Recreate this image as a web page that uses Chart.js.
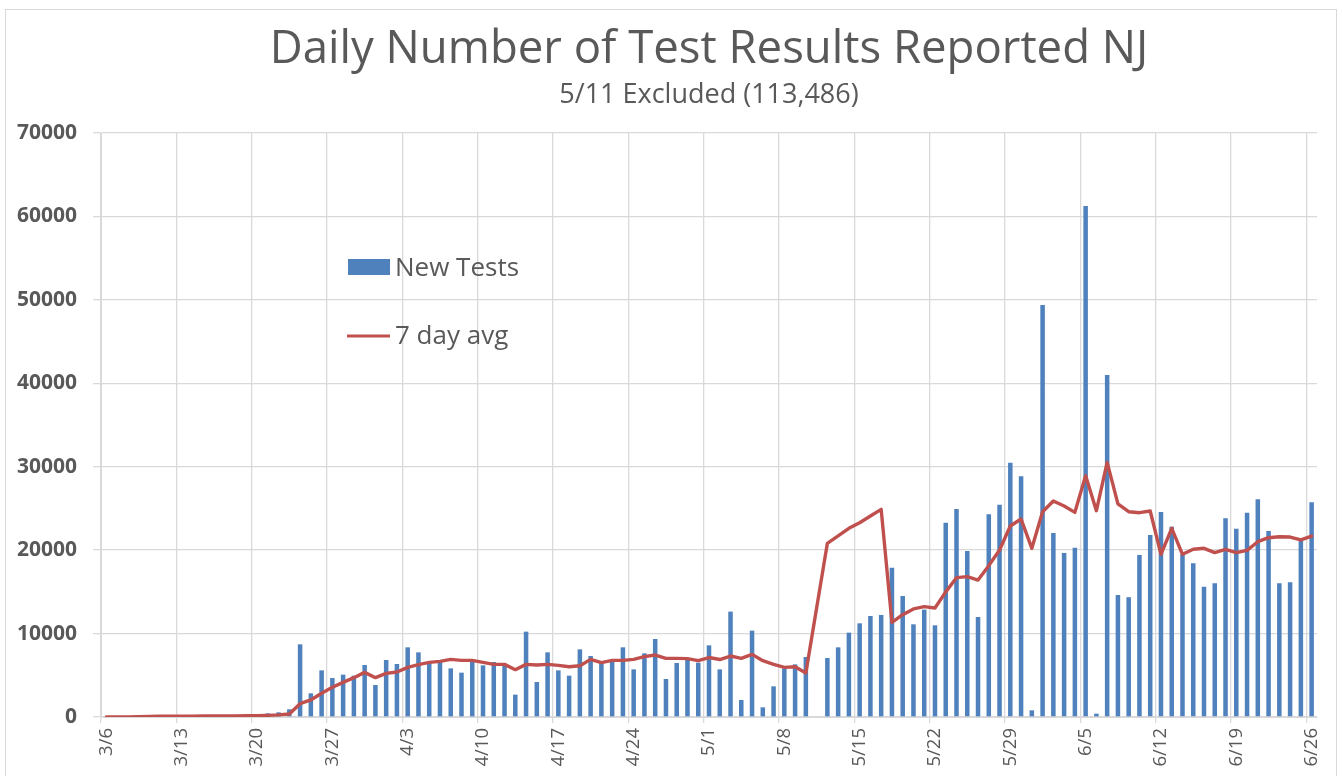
<!DOCTYPE html>
<html>
<head>
<meta charset="utf-8">
<title>Daily Number of Test Results Reported NJ</title>
<script src="https://cdn.jsdelivr.net/npm/chart.js@4/dist/chart.umd.min.js"></script>
<style>
  body { margin: 0; background: #fff; overflow: hidden; }
  #frame { position: absolute; left: 5px; top: 9px; width: 1330px; height: 800px; border: 1px solid #d9d9d9; }
  #chart { position: absolute; left: 0; top: 0; }
</style>
</head>
<body>
<div id="frame"></div>
<canvas id="chart" width="1342" height="776"></canvas>
<script>
"use strict";

// 3/6 .. 6/26, one row per week
const newTests = [
  0, 10, 20, 15, 60, 90, 110,
  120, 100, 130, 110, 140, 150, 300,
  100, 440, 560, 920, 8710, 2840, 5590,
  4670, 5075, 4955, 6230, 3835, 6830, 6350,
  8350, 7750, 6630, 6790, 5830, 5315, 6630,
  6190, 6590, 6310, 2680, 10230, 4195, 7750,
  5590, 4955, 8110, 7310, 6630, 6750, 8350,
  5710, 7630, 9350, 4555, 6470, 6910, 6510,
  8590, 5710, 12630, 2040, 10350, 1160, 3675,
  5830, 6310, 7190, null, 7070, 8350, 10110,
  11230, 12110, 12230, 17900, 14500, 11110, 12870,
  10990, 23290, 24930, 19900, 11990, 24290, 25450,
  30490, 28850, 800, 49380, 22050, 19660, 20300,
  61250, 400, 40990, 14620, 14360, 19420, 21810,
  24570, 22810, 19500, 18420, 15620, 16020, 23810,
  22570, 24490, 26090, 22290, 16020, 16140, 21300,
  25730
];

const sevenDayAvg = [
  0, 10, 20, 40, 80, 100, 100,
  110, 110, 120, 120, 120, 130, 150,
  160, 200, 260, 360, 1600, 2040, 2840,
  3560, 4155, 4715, 5350, 4715, 5235, 5395,
  5950, 6270, 6550, 6670, 6910, 6790, 6790,
  6550, 6310, 6310, 5675, 6310, 6230, 6310,
  6190, 6030, 6150, 6910, 6510, 6790, 6790,
  6910, 7230, 7430, 7030, 7030, 7000, 6750,
  7130, 6890, 7310, 7030, 7510, 6750, 6310,
  5950, 6030, 5275, null, 20820, 21700, 22610,
  23290, 24090, 24890, 11350, 12270, 12950, 13225,
  13060, 15000, 16700, 16820, 16420, 18140, 20020,
  22890, 23730, 20220, 24610, 25890, 25290, 24530,
  28930, 24730, 30520, 25550, 24610, 24490, 24690,
  19500, 22610, 19500, 20100, 20220, 19700, 20100,
  19700, 19980, 21010, 21490, 21610, 21570, 21220,
  21690
];

// build day labels 3/6 .. 6/26
const monthDays = [[3, 6, 31], [4, 1, 30], [5, 1, 31], [6, 1, 26]];
const dayLabels = [];
for (let m of monthDays) {
  for (let d = m[1]; d <= m[2]; d++) {
    dayLabels.push(m[0] + "/" + d);
  }
}

const yTicks = [0, 10000, 20000, 30000, 40000, 50000, 60000, 70000];

const gray = "#595959";
const gridGray = "#d9d9d9";
const fontName = "'Open Sans', 'Noto Sans', sans-serif";

// legend drawn inside the plot, like the original
const insideLegend = {
  id: "insideLegend",
  afterDraw(chart) {
    const ctx = chart.ctx;
    const sets = chart.data.datasets;
    ctx.save();
    ctx.font = "26px " + fontName;
    ctx.textBaseline = "alphabetic";

    ctx.fillStyle = sets[1].backgroundColor;
    ctx.fillRect(348, 259, 42, 16);
    ctx.fillStyle = gray;
    ctx.fillText(sets[1].label, 395, 276);

    ctx.strokeStyle = sets[0].borderColor;
    ctx.lineWidth = 3;
    ctx.beginPath();
    ctx.moveTo(347, 336);
    ctx.lineTo(390, 336);
    ctx.stroke();
    ctx.fillText(sets[0].label, 395, 344);
    ctx.restore();
  }
};

// center title + subtitle over the plot area instead of the whole canvas
const centerTitles = {
  id: "centerTitles",
  afterLayout(chart) {
    const area = chart.chartArea;
    for (let box of chart.boxes) {
      if (box.position === "top" && box.options && box.options.text) {
        box.left = area.left;
        box.right = area.right;
        box.width = area.right - area.left;
      }
    }
  }
};

const ctx = document.getElementById("chart").getContext("2d");

const testChart = new Chart(ctx, {
  type: "bar",
  data: {
    labels: dayLabels,
    datasets: [
      {
        type: "line",
        label: "7 day avg",
        data: sevenDayAvg,
        borderColor: "#C0504D",
        backgroundColor: "#C0504D",
        borderWidth: 3.4,
        pointRadius: 0,
        tension: 0,
        spanGaps: true,
        borderJoinStyle: "round",
        borderCapStyle: "round",
        order: 0,
      },
      {
        type: "bar",
        label: "New Tests",
        data: newTests,
        backgroundColor: "#4F81BD",
        barPercentage: 0.42,
        categoryPercentage: 1.0,
        order: 1,
      },
    ],
  },
  options: {
    responsive: false,
    animation: false,
    layout: { padding: { left: 10, right: 25, top: 0, bottom: 0 } },
    plugins: {
      legend: { display: false },
      tooltip: { enabled: false },
      title: {
        display: true,
        text: "Daily Number of Test Results Reported NJ",
        color: gray,
        font: { family: fontName, size: 45.5, weight: "normal", lineHeight: 1.2 },
        padding: { top: 23, bottom: 0 },
      },
      subtitle: {
        display: true,
        text: "5/11 Excluded (113,486)",
        color: gray,
        font: { family: fontName, size: 27, weight: "normal", lineHeight: 1.2 },
        padding: { top: 2, bottom: 21 },
      },
    },
    scales: {
      x: {
        offset: true,
        grid: {
          offset: true,
          color: (c) => (c.index % 7 === 0 ? gridGray : "rgba(0,0,0,0)"),
          lineWidth: 1.3,
          tickLength: 6,
        },
        border: { display: true, color: gridGray },
        ticks: {
          autoSkip: false,
          minRotation: 90,
          maxRotation: 90,
          padding: 5,
          color: gray,
          font: { family: fontName, size: 18.5 },
          callback: function (value, index) {
            return index % 7 === 0 ? dayLabels[index] : "";
          },
        },
        afterFit: function (scale) {
          scale.height = 59;
        },
      },
      y: {
        min: 0,
        max: yTicks[yTicks.length - 1],
        afterBuildTicks: function (scale) {
          scale.ticks = yTicks.map((v) => ({ value: v }));
        },
        grid: { color: gridGray, lineWidth: 1.3, tickLength: 8 },
        border: { display: true, color: gridGray },
        ticks: {
          padding: 16,
          color: gray,
          font: { family: fontName, size: 21, weight: "bold" },
          callback: (v) => String(v),
        },
        afterFit: function (scale) {
          scale.width = 91;
        },
      },
    },
  },
  plugins: [insideLegend, centerTitles],
});
</script>
</body>
</html>
